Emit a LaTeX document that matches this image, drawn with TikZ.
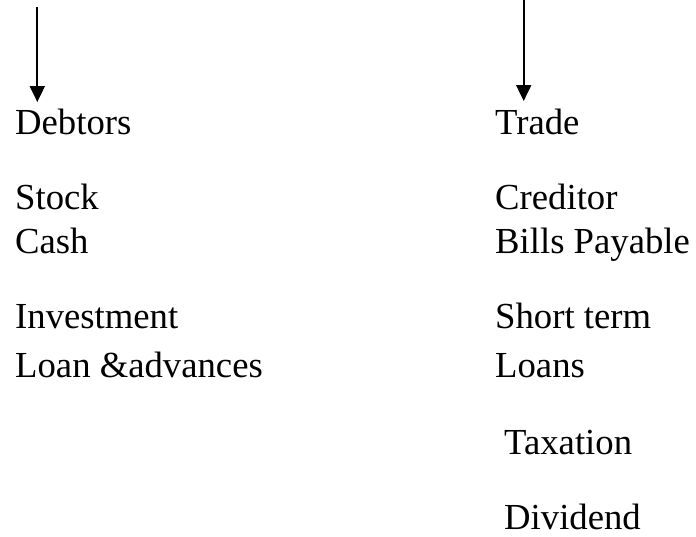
\documentclass[tikz,border=0pt]{standalone}
\usepackage{fontspec}
\setmainfont{Liberation Serif}
\usetikzlibrary{arrows.meta}
\begin{document}
\begin{tikzpicture}[x=1pt,y=-1pt,
  lbl/.style={anchor=base west,inner sep=0pt,font=\fontsize{36.7}{44}\selectfont},
  arr/.style={line width=2pt,-{Triangle[length=16pt,width=15pt]}}]
\useasboundingbox (0,0) rectangle (696,536);
% left column
\node[lbl] (debtors) at (15,134) {Debtors};
\node[lbl] (stock) at (15,209) {Stock};
\node[lbl] (cash) at (15,253) {Cash};
\node[lbl] (invest) at (15,328) {Investment};
\node[lbl] (loan) at (15,377) {Loan \&advances};
% right column
\node[lbl] (trade) at (495,134) {Trade};
\node[lbl] (creditor) at (495,209) {Creditor};
\node[lbl] (bills) at (495,253) {Bills Payable};
\node[lbl] (short) at (495,328) {Short term};
\node[lbl] (loans) at (495,377) {Loans};
\node[lbl] (tax) at (504,454) {Taxation};
\node[lbl] (div) at (504,529) {Dividend};
% arrows
\coordinate (ltop) at (37.3,7);
\coordinate (ltip) at (37.3,102);
\coordinate (rtop) at (523.7,0);
\coordinate (rtip) at (523.7,101);
\draw[arr] (ltop) -- (ltip);
\draw[arr] (rtop) -- (rtip);
\end{tikzpicture}
\end{document}
